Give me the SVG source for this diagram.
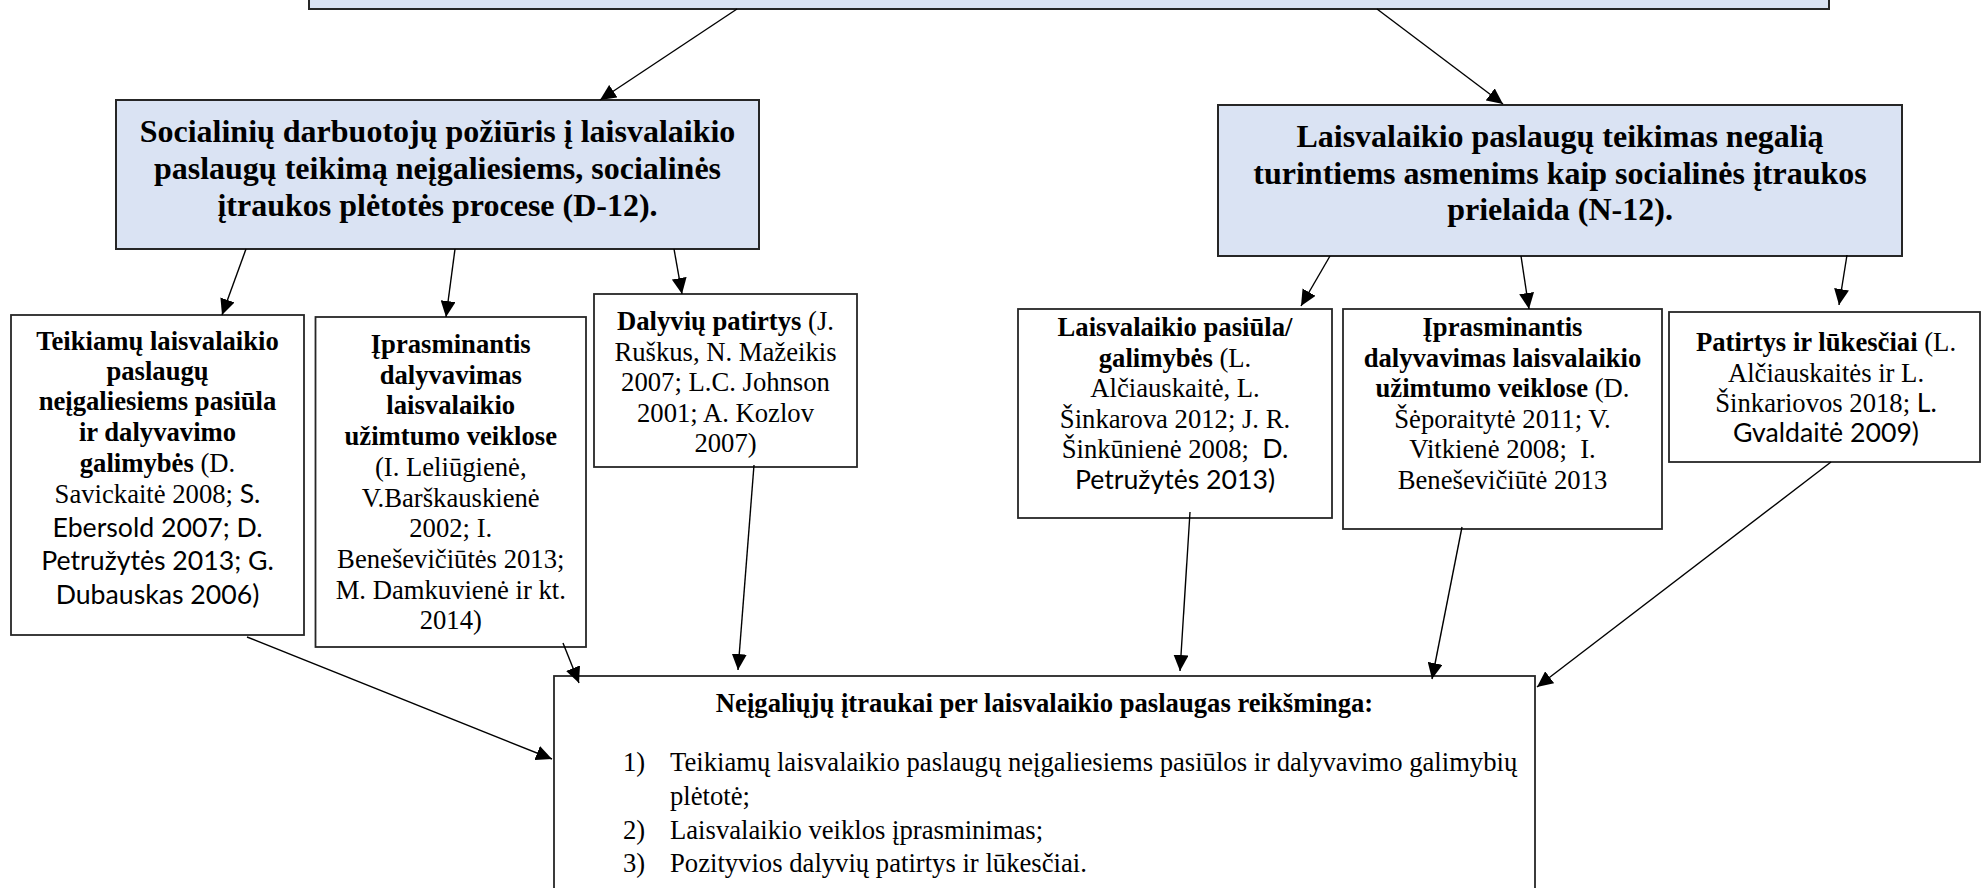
<svg xmlns="http://www.w3.org/2000/svg" width="1981" height="888" viewBox="0 0 1981 888">
<defs>
<style>
.bg{fill:#ffffff}
.blue{fill:#dae3f3;stroke:#262626;stroke-width:2}
.box{fill:#ffffff;stroke:#262626;stroke-width:1.8}
.ser{font-family:"Liberation Serif","Times New Roman",serif;fill:#000;text-anchor:middle}
.big{font-size:32px;font-weight:bold}
.sm{font-size:26.67px}
.b{font-weight:bold}
.sans{font-family:Lato,"Liberation Sans",sans-serif}
.st{text-anchor:start}
.con{stroke:#000;stroke-width:1.4;fill:none;marker-end:url(#ah)}
</style>
<marker id="ah" markerUnits="userSpaceOnUse" markerWidth="17" markerHeight="15" refX="16" refY="7.5" orient="auto">
<path d="M0,0 L16,7.5 L0,15 z" fill="#000"/>
</marker>
</defs>
<rect class="bg" x="0" y="0" width="1981" height="888"/>

<g id="top-node">
<rect class="blue" x="309" y="-20" width="1520" height="29"/>
</g>

<g id="node-d12">
<rect class="blue" x="116" y="100" width="643" height="149"/>
<text class="ser big" x="437.5" y="142">Socialinių darbuotojų požiūris į laisvalaikio</text>
<text class="ser big" x="437.5" y="179">paslaugų teikimą neįgaliesiems, socialinės</text>
<text class="ser big" x="437.5" y="216">įtraukos plėtotės procese (D-12).</text>
</g>

<g id="node-n12">
<rect class="blue" x="1218" y="105" width="684" height="151"/>
<text class="ser big" x="1560" y="147">Laisvalaikio paslaugų teikimas negalią</text>
<text class="ser big" x="1560" y="183.5">turintiems asmenims kaip socialinės įtraukos</text>
<text class="ser big" x="1560" y="220">prielaida (N-12).</text>
</g>

<g id="node-a">
<rect class="box" x="11" y="315" width="293" height="320"/>
<text class="ser sm b" x="157.5" y="350">Teikiamų laisvalaikio</text>
<text class="ser sm b" x="157.5" y="380">paslaugų</text>
<text class="ser sm b" x="157.5" y="410">neįgaliesiems pasiūla</text>
<text class="ser sm b" x="157.5" y="441">ir dalyvavimo</text>
<text class="ser sm" x="157.5" y="472"><tspan class="b">galimybės</tspan> (D.</text>
<text class="ser sm" x="157.5" y="503">Savickaitė 2008; <tspan class="sans">S.</tspan></text>
<text class="ser sm sans" x="157.5" y="537">Ebersold 2007; D.</text>
<text class="ser sm sans" x="157.5" y="570">Petružytės 2013; G.</text>
<text class="ser sm sans" x="157.5" y="604">Dubauskas 2006)</text>
</g>

<g id="node-b">
<rect class="box" x="315.5" y="317" width="270.5" height="330"/>
<text class="ser sm b" x="450.75" y="353">Įprasminantis</text>
<text class="ser sm b" x="450.75" y="383.7">dalyvavimas</text>
<text class="ser sm b" x="450.75" y="414.4">laisvalaikio</text>
<text class="ser sm b" x="450.75" y="445.1">užimtumo veiklose</text>
<text class="ser sm" x="450.75" y="475.8">(I. Leliūgienė,</text>
<text class="ser sm" x="450.75" y="506.5">V.Barškauskienė</text>
<text class="ser sm" x="450.75" y="537.2">2002; I.</text>
<text class="ser sm" x="450.75" y="567.9">Beneševičiūtės 2013;</text>
<text class="ser sm" x="450.75" y="598.6">M. Damkuvienė ir kt.</text>
<text class="ser sm" x="450.75" y="629.3">2014)</text>
</g>

<g id="node-c">
<rect class="box" x="594" y="294" width="263" height="173"/>
<text class="ser sm" x="725.5" y="330"><tspan class="b">Dalyvių patirtys</tspan> (J.</text>
<text class="ser sm" x="725.5" y="360.5">Ruškus, N. Mažeikis</text>
<text class="ser sm" x="725.5" y="391">2007; L.C. Johnson</text>
<text class="ser sm" x="725.5" y="421.5">2001; A. Kozlov</text>
<text class="ser sm" x="725.5" y="452">2007)</text>
</g>

<g id="node-d">
<rect class="box" x="1018" y="309" width="314" height="209"/>
<text class="ser sm b" x="1175" y="336">Laisvalaikio pasiūla/</text>
<text class="ser sm" x="1175" y="366.5"><tspan class="b">galimybės</tspan> (L.</text>
<text class="ser sm" x="1175" y="397">Alčiauskaitė, L.</text>
<text class="ser sm" x="1175" y="427.5">Šinkarova 2012; J. R.</text>
<text class="ser sm" x="1175" y="458" xml:space="preserve">Šinkūnienė 2008;  <tspan class="sans">D.</tspan></text>
<text class="ser sm sans" x="1175" y="488.5">Petružytės 2013)</text>
</g>

<g id="node-e">
<rect class="box" x="1343" y="309" width="319" height="220"/>
<text class="ser sm b" x="1502.5" y="336">Įprasminantis</text>
<text class="ser sm b" x="1502.5" y="366.5">dalyvavimas laisvalaikio</text>
<text class="ser sm" x="1502.5" y="397"><tspan class="b">užimtumo veiklose</tspan> (D.</text>
<text class="ser sm" x="1502.5" y="427.5">Šėporaitytė 2011; V.</text>
<text class="ser sm" x="1502.5" y="458" xml:space="preserve">Vitkienė 2008;  I.</text>
<text class="ser sm" x="1502.5" y="488.5">Beneševičiūtė 2013</text>
</g>

<g id="node-f">
<rect class="box" x="1669" y="312" width="311" height="150"/>
<text class="ser sm" x="1826" y="351"><tspan class="b">Patirtys ir lūkesčiai</tspan> (L.</text>
<text class="ser sm" x="1826" y="381.5">Alčiauskaitės ir L.</text>
<text class="ser sm" x="1826" y="412">Šinkariovos 2018; <tspan class="sans">L.</tspan></text>
<text class="ser sm sans" x="1826" y="442">Gvaldaitė 2009)</text>
</g>

<g id="node-result">
<rect class="box" x="554" y="676" width="981" height="240"/>
<text class="ser sm b" x="1044.5" y="712">Neįgaliųjų įtraukai per laisvalaikio paslaugas reikšminga:</text>
<text class="ser sm st" x="623" y="771">1)</text>
<text class="ser sm st" x="670" y="771">Teikiamų laisvalaikio paslaugų neįgaliesiems pasiūlos ir dalyvavimo galimybių</text>
<text class="ser sm st" x="670" y="805">plėtotė;</text>
<text class="ser sm st" x="623" y="839">2)</text>
<text class="ser sm st" x="670" y="839">Laisvalaikio veiklos įprasminimas;</text>
<text class="ser sm st" x="623" y="872">3)</text>
<text class="ser sm st" x="670" y="872">Pozityvios dalyvių patirtys ir lūkesčiai.</text>
</g>

<g id="connectors">
<line class="con" x1="737" y1="9" x2="600" y2="100"/>
<line class="con" x1="1377" y1="9" x2="1503" y2="104"/>
<line class="con" x1="246" y1="249" x2="222" y2="315"/>
<line class="con" x1="455" y1="249" x2="446" y2="317"/>
<line class="con" x1="674" y1="249" x2="682" y2="294"/>
<line class="con" x1="1330" y1="256" x2="1301" y2="306"/>
<line class="con" x1="1521" y1="256" x2="1529" y2="309"/>
<line class="con" x1="1847" y1="255" x2="1839" y2="305"/>
<line class="con" x1="247" y1="637" x2="552" y2="759"/>
<line class="con" x1="563" y1="643" x2="579" y2="683"/>
<line class="con" x1="754" y1="465" x2="738" y2="670"/>
<line class="con" x1="1190" y1="512" x2="1180" y2="671"/>
<line class="con" x1="1462" y1="527" x2="1432" y2="679"/>
<line class="con" x1="1831" y1="462" x2="1537" y2="687"/>
</g>
</svg>
